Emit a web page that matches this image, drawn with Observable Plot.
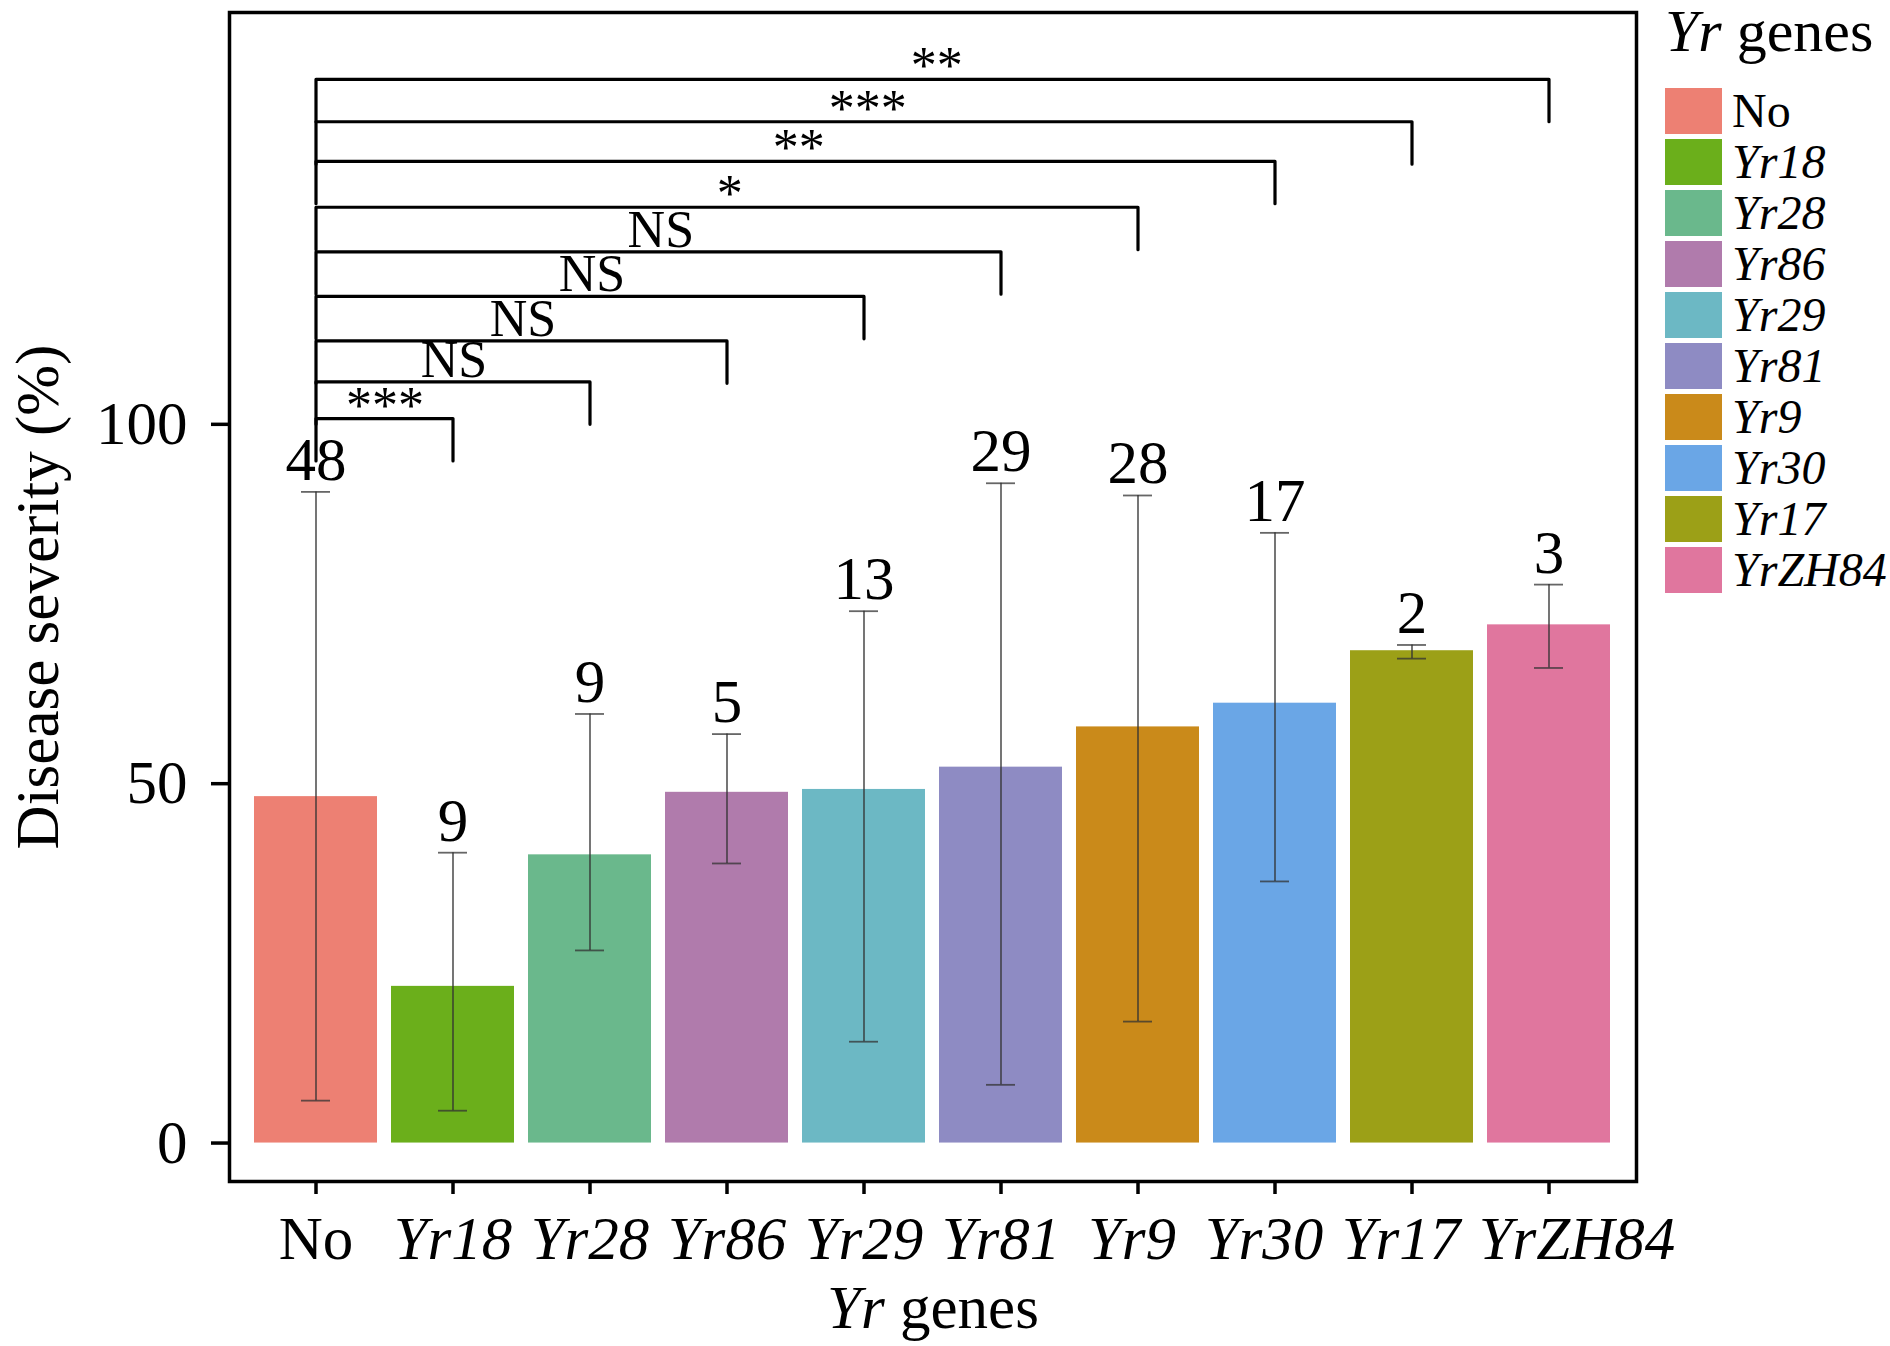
<!DOCTYPE html>
<html><head><meta charset="utf-8">
<script src="https://cdn.jsdelivr.net/npm/d3@7"></script>
<script src="https://cdn.jsdelivr.net/npm/@observablehq/plot@0.6"></script>
<style>
html,body{margin:0;padding:0;background:#fff;}
#wrap{position:relative;width:1890px;height:1346px;font-family:"Liberation Serif","Times New Roman",serif;color:#000;}
#legend{position:absolute;left:1665px;top:0px;}
#legend .title{font-size:60px;line-height:60px;position:absolute;left:0;top:1px;white-space:nowrap;}
#legend .key{position:absolute;left:0px;width:57px;}
#legend .lab{position:absolute;left:67px;font-size:48px;white-space:nowrap;line-height:48px;}
</style></head><body><div id="wrap"></div>
<script>
// ---- data ----
const genes  = ["No","Yr18","Yr28","Yr86","Yr29","Yr81","Yr9","Yr30","Yr17","YrZH84"];
const means  = [48.2, 21.8, 40.1, 48.8, 49.2, 52.3, 57.9, 61.2, 68.5, 72.1];
const errLow = [5.9, 4.5, 26.8, 38.9, 14.1, 8.1, 16.9, 36.4, 67.4, 66.1];
const errHigh= [90.6, 40.4, 59.7, 56.9, 74.0, 91.8, 90.1, 84.9, 69.3, 77.7];
const counts = [48, 9, 9, 5, 13, 29, 28, 17, 2, 3];
const colors = ["#ED8073","#6BAF1B","#6AB88C","#B07BAC","#6CB8C4","#8E8BC3","#CA8A1A","#6AA6E6","#9CA017","#E0769E"];
const compared  = ["Yr18","Yr28","Yr86","Yr29","Yr81","Yr9","Yr30","Yr17","YrZH84"];
const sigLevels = [100.8, 105.9, 111.6, 117.8, 124.0, 130.2, 136.6, 142.1, 148.0];
const sigLabels = ["***","NS","NS","NS","NS","*","**","***","**"];
const tipLength = 5.9;
const yTicks = [0, 50, 100];

// ---- layout ----
const W = 1890, H = 1346, mL = 229, mR = 254, mT = 12, mB = 165;
const xOpts = {domain: genes, paddingInner: 0.1, paddingOuter: 0.15};
const xs = Plot.scale({x: {type: "band", ...xOpts, range: [mL, W - mR]}});

const data = genes.map((g, i) => ({gene: g, mean: means[i], lo: errLow[i], hi: errHigh[i], n: counts[i]}));
const brackets = compared.flatMap((g, i) => [
  {id: g, x: "No", y: sigLevels[i] - tipLength},
  {id: g, x: "No", y: sigLevels[i]},
  {id: g, x: g, y: sigLevels[i]},
  {id: g, x: g, y: sigLevels[i] - tipLength}
]);
const sig = compared.map((g, i) => ({g, from: "No", y: sigLevels[i], label: sigLabels[i]}));

const sigMarks = sig.map(d => Plot.text([d], {
  x: "from", y: "y", text: "label",
  dx: (xs.apply(d.g) - xs.apply("No")) / 2,
  lineAnchor: "bottom", dy: d.label === "NS" ? -5 : 4, fontSize: 52, fill: "black"
}));

const errStyle = {stroke: "#333", strokeOpacity: 0.75, strokeWidth: 1.8};

const chart = Plot.plot({
  width: W, height: H,
  marginLeft: mL, marginRight: mR, marginTop: mT, marginBottom: mB,
  style: {fontFamily: "Liberation Serif, Times New Roman, serif", fontSize: "61px", background: "white", color: "black"},
  x: xOpts,
  y: {domain: [-5.35, 157.3]},
  color: {domain: genes, range: colors},
  marks: [
    Plot.barY(data, {x: "gene", y: "mean", fill: "gene"}),
    Plot.ruleX(data, {x: "gene", y1: "lo", y2: "hi", ...errStyle}),
    Plot.tickY(data, {x: "gene", y: "lo", ...errStyle, insetLeft: 47, insetRight: 47}),
    Plot.tickY(data, {x: "gene", y: "hi", ...errStyle, insetLeft: 47, insetRight: 47}),
    Plot.text(data, {x: "gene", y: "hi", text: d => String(d.n), lineAnchor: "bottom", dy: -12, fontSize: 61, fill: "black"}),
    Plot.line(brackets, {x: "x", y: "y", z: "id", stroke: "black", strokeWidth: 3.2}),
    ...sigMarks,
    Plot.frame({stroke: "black", strokeWidth: 3.5}),
    Plot.axisY({ticks: yTicks, tickSize: 18, tickPadding: 24, strokeWidth: 3.5, fontSize: 61,
      label: "Disease severity (%)", labelAnchor: "center", labelOffset: 215, labelArrow: false}),
    Plot.axisX({tickSize: 13, tickPadding: 21, strokeWidth: 3.5, fontSize: 61,
      label: "Yr genes", labelAnchor: "center", labelOffset: 146, labelArrow: false})
  ]
});

const wrap = document.getElementById("wrap");
wrap.appendChild(chart);

// italic gene names on the x axis (with the reference's slight label offsets)
const labelShift = {Yr9: -6, Yr30: -11, Yr17: -11, YrZH84: 28};
d3.select(chart).selectAll('g[aria-label="x-axis tick label"] text').each(function () {
  const t = this.textContent;
  if (t !== "No") this.setAttribute("font-style", "italic");
  if (labelShift[t]) this.setAttribute("dx", labelShift[t]);
});
const xl = d3.select(chart).select('g[aria-label="x-axis label"] text');
if (!xl.empty()) {
  xl.text(null);
  xl.append("tspan").attr("font-style", "italic").text("Yr");
  xl.append("tspan").text(" genes");
}

// legend
const leg = d3.select(wrap).append("div").attr("id", "legend");
leg.append("div").attr("class", "title").html('<i>Yr</i> genes');
genes.forEach((g, i) => {
  const top = 88 + i * 51;
  leg.append("div").attr("class", "key").style("top", top + "px").style("height", "46px").style("background", colors[i]);
  leg.append("div").attr("class", "lab").style("top", (top - 1) + "px").style("font-style", g === "No" ? "normal" : "italic").text(g);
});
</script></body></html>
